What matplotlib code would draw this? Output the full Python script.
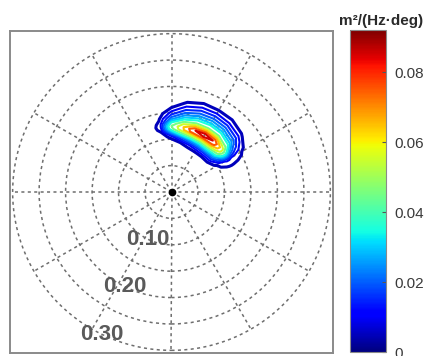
import numpy as np
import matplotlib
matplotlib.use("Agg")
import matplotlib.pyplot as plt
from matplotlib.patches import Circle
from matplotlib.colors import Normalize
from matplotlib.cm import ScalarMappable

plt.rcParams["font.family"] = ["Liberation Sans", "DejaVu Sans"]

# ---- data ---------------------------------------------------------------
# radial coordinate (frequency, Hz) and direction (deg, counter-clockwise from east)
freqs = [0.085, 0.095, 0.105, 0.115, 0.12, 0.125, 0.13, 0.14, 0.15, 0.16, 0.17, 0.18, 0.19]
dirs_deg = [20, 30, 40, 50, 60, 70, 80, 90, 100, 110]

# spectral density in 1e-3 m^2/(Hz*deg), one row per direction
dens_020 = [0, 0, 1, 1, 1, 1, 1, 1, 1, 0, 0, 0, 0]
dens_030 = [1, 3, 7, 10, 11, 11, 10, 8, 6, 3, 1, 0, 0]
dens_040 = [2, 12, 28, 50, 57, 58, 50, 34, 23, 14, 6, 2, 0]
dens_050 = [2, 14, 34, 65, 80, 84, 72, 42, 29, 19, 10, 4, 1]
dens_060 = [2, 13, 32, 64, 84, 92, 76, 43, 30, 20, 11, 4, 1]
dens_070 = [1, 10, 28, 60, 80, 84, 70, 40, 28, 18, 10, 4, 1]
dens_080 = [0, 5, 20, 50, 63, 64, 56, 34, 22, 13, 6, 2, 0]
dens_090 = [0, 1, 8, 30, 42, 45, 38, 22, 12, 5, 1, 0, 0]
dens_100 = [0, 0, 1, 5, 7, 8, 7, 4, 1, 0, 0, 0, 0]
dens_110 = [0, 0, 0, 0, 0, 0, 0, 0, 0, 0, 0, 0, 0]

contour_levels = [0.005, 0.01, 0.015, 0.02, 0.025, 0.03, 0.035, 0.045, 0.055, 0.065, 0.075, 0.085]

ring_radii = [0.05, 0.10, 0.15, 0.20, 0.25, 0.30]
ring_label_values = [0.10, 0.20, 0.30]
ring_label_texts = ["0.10", "0.20", "0.30"]
spoke_angles_deg = [0, 30, 60, 90, 120, 150, 180, 210, 240, 270, 300, 330]

cbar_ticks = [0, 0.02, 0.04, 0.06, 0.08]
cbar_ticklabels = ["0", "0.02", "0.04", "0.06", "0.08"]
cbar_max = 0.092
cbar_title = "m²/(Hz·deg)"

# ---- figure ---------------------------------------------------------------
W, H = 425, 356
fig = plt.figure(figsize=(W / 100, H / 100), dpi=100)
ax = fig.add_axes([10 / W, 3 / H, 323 / W, 322 / H])
lim = 0.305
ax.set_xlim(-lim, lim)
ax.set_ylim(-lim, lim)
ax.set_xticks([])
ax.set_yticks([])
for sp in ax.spines.values():
    sp.set_color("#8a8a8a")
    sp.set_linewidth(1.4)

grid_kw = dict(color="#6e6e6e", lw=1.1, ls=(0, (2, 2.2)))
for r in ring_radii:
    ax.add_patch(Circle((0, 0), r, fill=False, **grid_kw))
rmax = max(ring_radii)
for a in spoke_angles_deg:
    t = np.deg2rad(a)
    ax.plot([0, rmax * np.cos(t)], [0, rmax * np.sin(t)], **grid_kw)
ax.plot([0], [0], "o", color="black", ms=4.5, zorder=5)

# contour field
Z = np.array([dens_020, dens_030, dens_040, dens_050, dens_060, dens_070,
              dens_080, dens_090, dens_100, dens_110]) * 1e-3
Rg, Tg = np.meshgrid(np.array(freqs), np.deg2rad(dirs_deg))
X = Rg * np.cos(Tg)
Y = Rg * np.sin(Tg)
norm = Normalize(vmin=0, vmax=cbar_max)
lws = [2.2] + [1.5] * (len(contour_levels) - 1)
ax.contour(X, Y, Z, levels=contour_levels, cmap="jet", norm=norm, linewidths=lws, zorder=4)

# ring labels
lab_ang = np.deg2rad(244)
for v, s in zip(ring_label_values, ring_label_texts):
    ax.text(v * np.cos(lab_ang), v * np.sin(lab_ang), s, ha="center", va="center",
            fontsize=16, fontweight="bold", color="#5a5a5a", zorder=6)

# colorbar
cax = fig.add_axes([350 / W, 4 / H, 36 / W, 322 / H])
sm = ScalarMappable(norm=norm, cmap="jet")
cb = fig.colorbar(sm, cax=cax, ticks=cbar_ticks)
cb.ax.set_yticklabels(cbar_ticklabels)
cb.ax.tick_params(direction="in", length=3, width=0.8, color="#555555",
                  labelsize=11, labelcolor="#3a3a3a", pad=6)
cb.outline.set_edgecolor("#8a8a8a")
cb.outline.set_linewidth(0.8)
fig.text(381 / W, 1 - 21 / H, cbar_title, ha="center", va="center",
         fontsize=11, fontweight="bold", color="#2a2a2a")

fig.savefig("out.png", dpi=100)
